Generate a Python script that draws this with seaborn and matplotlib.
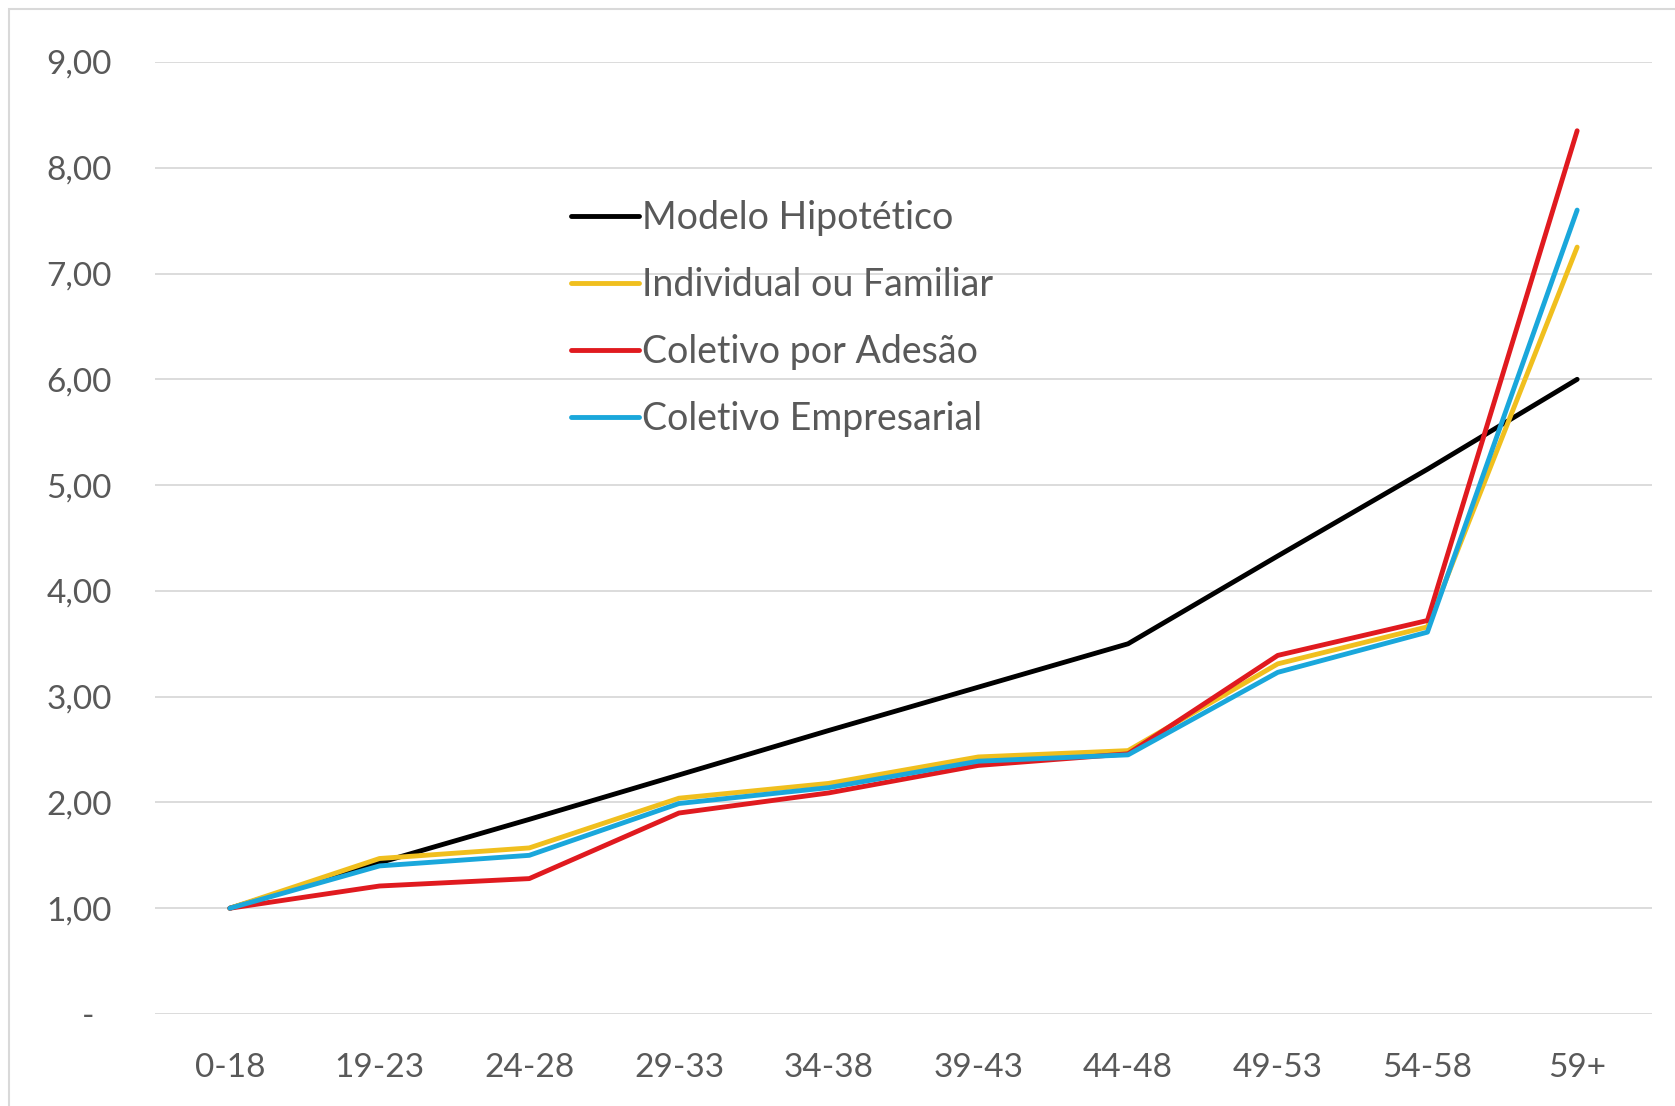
import matplotlib
matplotlib.use("Agg")
import matplotlib.pyplot as plt
from matplotlib.patches import Rectangle
import seaborn as sns
import pandas as pd

# ---- data ----
faixas = ["0-18", "19-23", "24-28", "29-33", "34-38", "39-43", "44-48", "49-53", "54-58", "59+"]
modelo_hipotetico = [1.00, 1.43, 1.84, 2.26, 2.68, 3.09, 3.50, 4.33, 5.15, 6.00]
individual_familiar = [1.00, 1.47, 1.57, 2.04, 2.18, 2.43, 2.49, 3.31, 3.66, 7.25]
coletivo_adesao = [1.00, 1.21, 1.28, 1.90, 2.09, 2.35, 2.46, 3.39, 3.72, 8.35]
coletivo_empresarial = [1.00, 1.40, 1.50, 1.99, 2.14, 2.39, 2.45, 3.23, 3.61, 7.60]
series_names = ["Modelo Hipotético", "Individual ou Familiar", "Coletivo por Adesão", "Coletivo Empresarial"]
y_ticks = [0, 1, 2, 3, 4, 5, 6, 7, 8, 9]
y_tick_labels = ["-  ", "1,00", "2,00", "3,00", "4,00", "5,00", "6,00", "7,00", "8,00", "9,00"]

colors = ["#000000", "#F0BF1E", "#E01A1F", "#1AA7DB"]

rows = []
for name, vals in zip(series_names, [modelo_hipotetico, individual_familiar, coletivo_adesao, coletivo_empresarial]):
    for i, (f, v) in enumerate(zip(faixas, vals)):
        rows.append({"idx": i, "faixa": f, "valor": v, "serie": name})
df = pd.DataFrame(rows)

sns.set_style("white")
plt.rcParams["font.family"] = ["Lato", "DejaVu Sans"]

W, H = 1675, 1106
fig = plt.figure(figsize=(W / 100, H / 100), dpi=100)
ax = fig.add_axes([155 / W, 1 - 1014 / H, (1652 - 155) / W, (1014 - 62) / H])

sns.lineplot(data=df, x="idx", y="valor", hue="serie", hue_order=series_names,
             palette=colors, linewidth=3.5, ax=ax, sort=False, legend=True)

ax.set_xlim(-0.5, len(faixas) - 0.5)
ax.set_ylim(0, 9)
ax.set_xticks(range(len(faixas)))
ax.set_xticklabels(faixas)
ax.set_yticks(y_ticks)
ax.set_yticklabels(y_tick_labels)
ax.set_xlabel("")
ax.set_ylabel("")
ax.grid(axis="y", color="#D9D9D9", linewidth=1.3)
ax.set_axisbelow(True)
for s in ax.spines.values():
    s.set_visible(False)
ax.tick_params(axis="both", length=0, labelsize=24, labelcolor="#595959")
ax.tick_params(axis="y", pad=31)
ax.tick_params(axis="x", pad=28)

handles, labels = ax.get_legend_handles_labels()
leg = ax.legend(handles, labels, loc="upper left", bbox_to_anchor=(571 / W, 1 - 200 / H),
                bbox_transform=fig.transFigure, frameon=False, fontsize=27,
                handlelength=1.8, handletextpad=0.08, labelspacing=0.83,
                borderpad=0, borderaxespad=0)
for t in leg.get_texts():
    t.set_color("#595959")
for l in leg.get_lines():
    l.set_linewidth(3.5)

fig.patches.append(Rectangle((9 / W, -0.05), 1.2, 1 - 9 / H + 0.05, transform=fig.transFigure,
                             fill=False, edgecolor="#D9D9D9", linewidth=1.5))

fig.savefig("out.png", dpi=100, facecolor="white")
